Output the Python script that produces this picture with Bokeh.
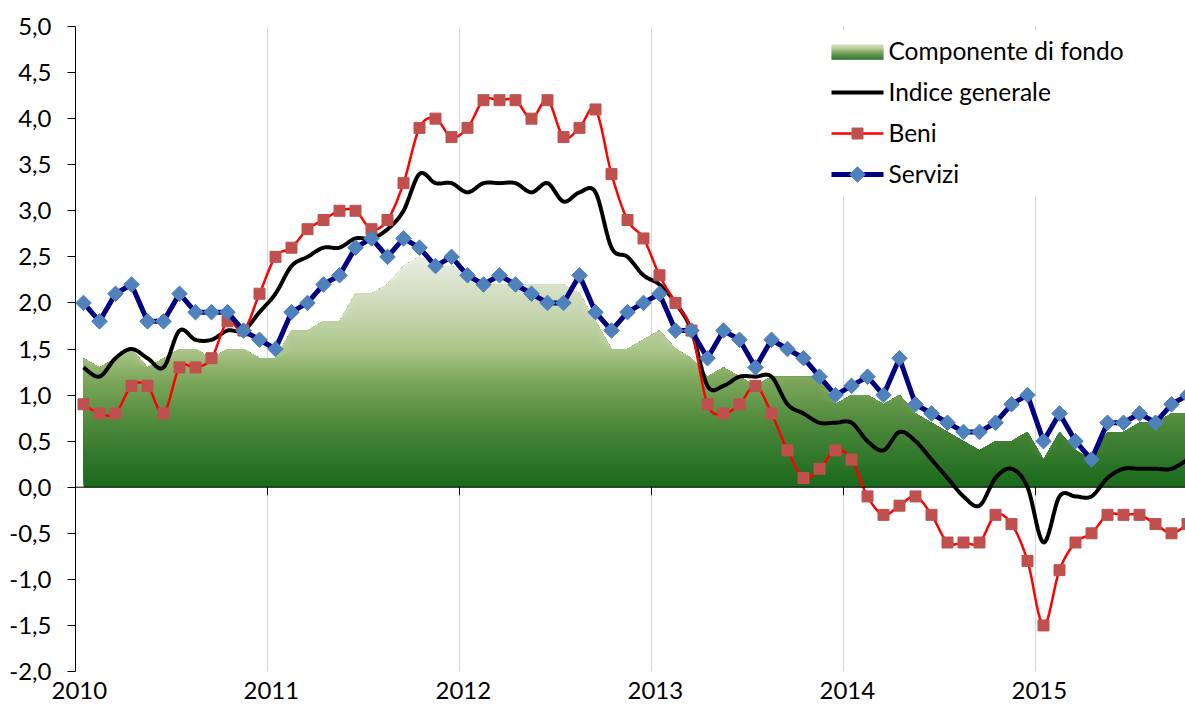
import numpy as np
from bokeh.plotting import figure
from bokeh.models import Range1d, FixedTicker, CustomJSTickFormatter, Span
from bokeh.core.properties import value
from bokeh.embed import file_html
from bokeh.resources import INLINE

# ---------------- data (monthly, Jan 2010 - Oct 2015) ----------------
years = [2010, 2011, 2012, 2013, 2014, 2015]
y_ticks = [-2.0, -1.5, -1.0, -0.5, 0.0, 0.5, 1.0, 1.5, 2.0, 2.5, 3.0, 3.5, 4.0, 4.5, 5.0]

componente_di_fondo = [1.4, 1.3, 1.4, 1.5, 1.3, 1.4, 1.5, 1.5, 1.4, 1.5, 1.5, 1.4,
                       1.4, 1.7, 1.7, 1.8, 1.8, 2.1, 2.1, 2.2, 2.4, 2.5, 2.4, 2.4,
                       2.3, 2.2, 2.2, 2.2, 2.2, 2.2, 2.2, 2.1, 1.8, 1.5, 1.5, 1.6,
                       1.7, 1.5, 1.4, 1.2, 1.3, 1.2, 1.1, 1.2, 1.2, 1.2, 1.2, 0.9,
                       1.0, 1.0, 0.9, 1.0, 0.8, 0.7, 0.6, 0.5, 0.4, 0.5, 0.5, 0.6,
                       0.3, 0.6, 0.4, 0.3, 0.6, 0.6, 0.7, 0.7, 0.8, 0.8]

indice_generale = [1.3, 1.2, 1.4, 1.5, 1.4, 1.3, 1.7, 1.6, 1.6, 1.7, 1.7, 1.9,
                   2.1, 2.4, 2.5, 2.6, 2.6, 2.7, 2.7, 2.8, 3.0, 3.4, 3.3, 3.3,
                   3.2, 3.3, 3.3, 3.3, 3.2, 3.3, 3.1, 3.2, 3.2, 2.6, 2.5, 2.3,
                   2.2, 2.0, 1.7, 1.1, 1.1, 1.2, 1.2, 1.2, 0.9, 0.8, 0.7, 0.7,
                   0.7, 0.5, 0.4, 0.6, 0.5, 0.3, 0.1, -0.1, -0.2, 0.1, 0.2, 0.0,
                   -0.6, -0.1, -0.1, -0.1, 0.1, 0.2, 0.2, 0.2, 0.2, 0.3]

beni = [0.9, 0.8, 0.8, 1.1, 1.1, 0.8, 1.3, 1.3, 1.4, 1.8, 1.7, 2.1,
        2.5, 2.6, 2.8, 2.9, 3.0, 3.0, 2.8, 2.9, 3.3, 3.9, 4.0, 3.8,
        3.9, 4.2, 4.2, 4.2, 4.0, 4.2, 3.8, 3.9, 4.1, 3.4, 2.9, 2.7,
        2.3, 2.0, 1.7, 0.9, 0.8, 0.9, 1.1, 0.8, 0.4, 0.1, 0.2, 0.4,
        0.3, -0.1, -0.3, -0.2, -0.1, -0.3, -0.6, -0.6, -0.6, -0.3, -0.4, -0.8,
        -1.5, -0.9, -0.6, -0.5, -0.3, -0.3, -0.3, -0.4, -0.5, -0.4]

servizi = [2.0, 1.8, 2.1, 2.2, 1.8, 1.8, 2.1, 1.9, 1.9, 1.9, 1.7, 1.6,
           1.5, 1.9, 2.0, 2.2, 2.3, 2.6, 2.7, 2.5, 2.7, 2.6, 2.4, 2.5,
           2.3, 2.2, 2.3, 2.2, 2.1, 2.0, 2.0, 2.3, 1.9, 1.7, 1.9, 2.0,
           2.1, 1.7, 1.7, 1.4, 1.7, 1.6, 1.3, 1.6, 1.5, 1.4, 1.2, 1.0,
           1.1, 1.2, 1.0, 1.4, 0.9, 0.8, 0.7, 0.6, 0.6, 0.7, 0.9, 1.0,
           0.5, 0.8, 0.5, 0.3, 0.7, 0.7, 0.8, 0.7, 0.9, 1.0]

labels = ["Componente di fondo", "Indice generale", "Beni", "Servizi"]

n = len(servizi)
x = 2010 + (np.arange(n) + 0.5) / 12.0

# ---------------- helpers ----------------
def smooth(xs, ys, steps=14):
    xs = np.asarray(xs, float)
    ys = np.asarray(ys, float)
    px = np.concatenate([[xs[0]], xs, [xs[-1]]])
    py = np.concatenate([[ys[0]], ys, [ys[-1]]])
    ox, oy = [], []
    t = np.linspace(0, 1, steps, endpoint=False)
    for k in range(1, len(px) - 2):
        x0, x1, x2, x3 = px[k - 1], px[k], px[k + 1], px[k + 2]
        y0, y1, y2, y3 = py[k - 1], py[k], py[k + 1], py[k + 2]
        c1x, c1y = x1 + (x2 - x0) / 6, y1 + (y2 - y0) / 6
        c2x, c2y = x2 - (x3 - x1) / 6, y2 - (y3 - y1) / 6
        a = (1 - t) ** 3
        b = 3 * (1 - t) ** 2 * t
        c = 3 * (1 - t) * t ** 2
        d = t ** 3
        ox.extend(a * x1 + b * c1x + c * c2x + d * x2)
        oy.extend(a * y1 + b * c1y + c * c2y + d * y2)
    ox.append(xs[-1])
    oy.append(ys[-1])
    return np.array(ox), np.array(oy)

stops_v = [0.0, 0.6, 0.9, 1.2, 1.5, 2.0, 2.6]
stops_c = [(25, 105, 28), (70, 132, 55), (98, 150, 72), (130, 170, 95),
           (172, 198, 138), (205, 218, 185), (240, 242, 236)]

def grad_color(v):
    r = np.interp(v, stops_v, [c[0] for c in stops_c])
    g = np.interp(v, stops_v, [c[1] for c in stops_c])
    b = np.interp(v, stops_v, [c[2] for c in stops_c])
    return "#%02x%02x%02x" % (int(round(r)), int(round(g)), int(round(b)))

FONT = value("Lato")

# ---------------- figure ----------------
x_end = 2010 + 1110 / 192.0
p = figure(width=1185, height=708, x_range=Range1d(2010, x_end), y_range=Range1d(-2, 5),
           output_backend="svg", toolbar_location=None,
           min_border_left=75, min_border_right=0, min_border_top=26, min_border_bottom=37)
p.outline_line_color = None
p.background_fill_color = "white"
p.border_fill_color = "white"

# grid
p.ygrid.visible = False
p.xgrid.ticker = FixedTicker(ticks=years)
p.xgrid.grid_line_color = "#d9d9d9"
p.xgrid.grid_line_width = 1

# bottom axis: labels only
xa = p.xaxis[0]
xa.ticker = FixedTicker(ticks=[yr + 0.02 for yr in years])
xa.formatter = CustomJSTickFormatter(code="return Math.round(tick).toString();")
xa.axis_line_color = None
xa.major_tick_line_color = None
xa.major_tick_in = 0
xa.major_tick_out = 0
xa.minor_tick_line_color = None
xa.major_label_standoff = 10
xa.major_label_text_line_height = 1.0
xa.major_label_text_font = "Lato"
xa.major_label_text_font_size = "24px"
xa.major_label_text_color = "black"

# left axis
ya = p.yaxis[0]
ya.ticker = FixedTicker(ticks=y_ticks)
ya.formatter = CustomJSTickFormatter(code="return tick.toFixed(1).replace('.', ',');")
ya.axis_line_color = "black"
ya.axis_line_width = 1
ya.major_tick_in = 0
ya.major_tick_out = 8
ya.major_tick_line_color = "black"
ya.minor_tick_line_color = None
ya.major_label_standoff = 16
ya.major_label_text_font = "Lato"
ya.major_label_text_font_size = "24px"
ya.major_label_text_color = "black"

# ---------------- Componente di fondo: gradient area ----------------
core = np.array(componente_di_fondo)
levels = np.arange(0.0, core.max() + 0.05, 0.025)
for lo in levels:
    y1 = np.minimum(core, lo)
    p.varea(x=x, y1=y1, y2=core, fill_color=grad_color(lo + 0.0125), fill_alpha=1.0)

# category axis crossing at zero, with year ticks
p.add_layout(Span(location=0, dimension="width", line_color="black", line_width=1))
p.segment(x0=years, x1=years, y0=[0] * len(years), y1=[-0.087] * len(years),
          line_color="black", line_width=1)

# ---------------- Indice generale ----------------
gx, gy = smooth(x, indice_generale)
p.line(gx, gy, line_color="black", line_width=4)

# ---------------- Beni ----------------
bx, by = smooth(x, beni)
p.line(bx, by, line_color="#ff0000", line_width=2.5)
p.scatter(x, beni, marker="square", size=11, fill_color="#c0504d", line_color="#c0504d")

# ---------------- Servizi ----------------
p.line(x, servizi, line_color="#000080", line_width=5)
p.scatter(x, servizi, marker="square", angle=np.pi / 4, size=11,
          fill_color="#4f81bd", line_color="#4f81bd")

# ---------------- legend (page-pixel coordinates) ----------------
p.extra_x_ranges = {"px": Range1d(75, 1185)}
p.extra_y_ranges = {"py": Range1d(671, 26)}
L = dict(x_range_name="px", y_range_name="py")

p.quad(left=[822], right=[1140], top=[30], bottom=[195], fill_color="white", line_color=None, **L)

row_y = [50, 91, 132, 173]
gx0, gx1 = 831, 883
sw_top, sw_bot = 44, 59
sw_edges = np.linspace(sw_top, sw_bot, 16)
sw_vals = np.linspace(2.0, 0.05, 15)
p.quad(left=[gx0] * 15, right=[gx1] * 15, top=list(sw_edges[:-1]), bottom=list(sw_edges[1:] + 0.3),
       fill_color=[grad_color(v) for v in sw_vals], line_color=None, **L)
p.segment(x0=[gx0], x1=[gx1], y0=[row_y[1] + 1], y1=[row_y[1] + 1], line_color="black", line_width=4, **L)
p.segment(x0=[gx0], x1=[gx1], y0=[row_y[2] + 1], y1=[row_y[2] + 1], line_color="#ff0000", line_width=2.5, **L)
p.scatter(x=[(gx0 + gx1) / 2], y=[row_y[2] + 1], marker="square", size=11,
          fill_color="#c0504d", line_color="#c0504d", **L)
p.segment(x0=[gx0], x1=[gx1], y0=[row_y[3] + 1], y1=[row_y[3] + 1], line_color="#000080", line_width=5, **L)
p.scatter(x=[(gx0 + gx1) / 2], y=[row_y[3] + 1], marker="square", angle=np.pi / 4, size=11,
          fill_color="#4f81bd", line_color="#4f81bd", **L)
p.text(x=[888] * 4, y=row_y, text=labels, text_baseline="middle", text_align="left",
       text_font=FONT, text_font_size="24.5px", text_color="black", **L)

open("out.html", "w").write(file_html(p, INLINE))
